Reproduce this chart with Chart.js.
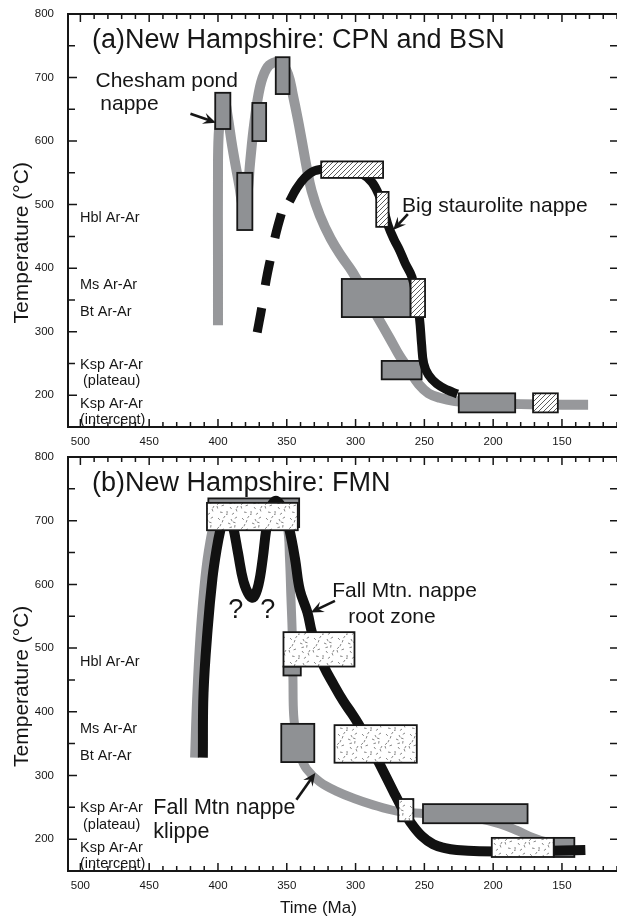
<!DOCTYPE html>
<html lang="en">
<head>
<meta charset="UTF-8">
<title>New Hampshire T-t paths</title>
<script src="https://cdn.jsdelivr.net/npm/chart.js"></script>
<style>
    body { margin: 0; background: #fff; overflow: hidden; }
    canvas { position: absolute; left: 0; }
    #chartA { top: 0; }
    #chartB { top: 443px; }
</style>
</head>
<body>

<canvas id="chartA" width="617" height="450"></canvas>
<canvas id="chartB" width="617" height="473"></canvas>

<script>
// axis limits (Ma, degC) and tick spacing
var ageRange = [110, 509];
var tempRange = [150, 800];
var ageTickStep = 10;
var ageLabelStep = 50;

// closure temperature labels down the left side
var closureLabels = ['Hbl Ar-Ar', 'Ms Ar-Ar', 'Bt Ar-Ar', 'Ksp Ar-Ar', '(plateau)', 'Ksp Ar-Ar', '(intercept)'];
var closureTemps = [472, 367, 324, 242, 216, 180, 154];

// (a) Chesham pond nappe (grey) and Big staurolite nappe (black)
var aCpnAge = [400, 400, 400, 399.5, 397.5, 395, 393, 389.5, 384.5, 381.5, 379, 376.5, 373.5, 369.5, 365, 360, 354, 349, 345.5, 342, 339, 335.5, 332, 326, 318, 310, 302, 293, 284, 275, 268, 261, 254, 247, 239, 228, 210, 180, 150, 131];
var aCpnTemp = [310, 420, 540, 610, 650, 662, 640, 590, 530, 495, 510, 570, 630, 685, 713, 723, 722, 705, 672, 635, 600, 558, 522, 483, 446, 418, 393, 358, 323, 289, 262, 240, 217, 203, 196, 191, 188, 186, 185, 185];
var aBsnDashAge = [371.5, 368, 365, 361.3, 357.6, 352.6];
var aBsnDashTemp = [299, 340, 381, 420, 457, 496];
var aBsnAge = [348, 343, 337, 330, 320, 305, 295, 288, 283, 279, 276, 272, 268, 264, 259, 256, 253.5, 252, 250.5, 247, 241, 233, 226];
var aBsnTemp = [505, 525, 542, 553, 557, 556, 548, 535, 515, 488, 465, 445, 428, 408, 386, 355, 320, 280, 250, 232, 218, 208, 202];
// boxes: [older age, younger age, low T, high T]
var aGrayBoxes = [[402, 391, 619, 676], [386, 375, 460, 550], [375, 365, 600, 660], [358, 348, 674, 732], [310, 260, 323, 383], [281, 252, 225, 254], [225, 184, 173, 203]];
var aHatchBoxes = [[325, 280, 542, 568], [285, 276, 465, 520], [260, 249.5, 323, 383], [171, 153, 173, 203]];

// (b) Fall Mtn nappe klippe (grey) and root zone (black)
var bKlippeAge = [417, 415.5, 413, 409.5, 406, 402, 396, 388, 375, 362, 353, 349.5, 348, 347, 346, 345.5, 345, 343, 340, 335.5, 326, 313.6, 300, 289, 270, 250, 230, 210, 195, 183, 172, 162, 152];
var bKlippeTemp = [328, 420, 520, 610, 665, 700, 716, 722, 722, 718, 708, 690, 640, 580, 520, 450, 395, 360, 330, 310, 290, 275, 263, 255, 244, 240, 237, 232, 224, 214, 203, 196, 193];
var bRootAge = [411, 410.5, 407.5, 404, 401, 398.3, 395.5, 392, 389, 385.5, 381.5, 377, 374, 370.5, 367.5, 365, 362, 358.5, 355, 351.5, 348, 344, 340.5, 335, 331.8, 327.5, 323, 316, 309, 303, 298, 290, 283, 272.5, 266, 260, 252, 243.6, 235, 226.5, 210, 180, 150, 133];
var bRootTemp = [328, 430, 530, 610, 655, 685, 706, 708, 690, 650, 605, 582, 580, 600, 640, 685, 718, 731, 726, 710, 685, 640, 591, 556, 525, 496, 471, 443, 417, 398, 381, 350, 320, 275, 248, 226, 205, 192, 186, 183, 181, 181, 182, 183];
var bGrayBoxes = [[407, 341, 690, 735], [352.4, 339.8, 457, 471], [354, 330, 321, 381], [251, 175, 225, 255], [156, 141, 172, 202]];
var bStippleBoxes = [[408, 342, 685, 728], [352.4, 300.8, 471, 525], [315.3, 255.5, 320, 379], [269, 258, 228, 263], [201, 156, 172, 202]];

var FONT = '"Liberation Sans", Arial, Helvetica, sans-serif';
var INK = '#161616';
var GRAY_LINE = '#97989b';
var GRAY_BOX = '#8f9194';

function pts(ages, temps) {
    return ages.map(function (a, i) { return { x: a, y: temps[i] }; });
}

function hatchPattern(ctx) {
    var c = document.createElement('canvas');
    c.width = 5; c.height = 5;
    var g = c.getContext('2d');
    g.fillStyle = '#fff';
    g.fillRect(0, 0, 5, 5);
    g.strokeStyle = '#333';
    g.lineWidth = 0.8;
    g.beginPath();
    g.moveTo(0, 5); g.lineTo(5, 0);
    g.moveTo(-1, 1); g.lineTo(1, -1);
    g.moveTo(4, 6); g.lineTo(6, 4);
    g.stroke();
    return ctx.createPattern(c, 'repeat');
}

// fixed little flecks for the stipple texture
var flecks = [[2, 3, 0.8], [9, 1, 2.2], [15, 4, 1.1], [21, 2, 2.6], [5, 9, 2.0], [12, 8, 0.4], [19, 10, 1.7],
    [1, 15, 1.3], [8, 14, 2.8], [14, 16, 0.9], [22, 15, 2.1], [4, 21, 0.2], [11, 20, 1.5], [18, 22, 2.5],
    [7, 5, 1.9], [17, 7, 0.3], [3, 12, 2.4], [20, 18, 1.2], [10, 23, 0.6], [16, 12, 2.9]];

function stipplePattern(ctx) {
    var c = document.createElement('canvas');
    c.width = 24; c.height = 24;
    var g = c.getContext('2d');
    g.fillStyle = '#fff';
    g.fillRect(0, 0, 24, 24);
    g.strokeStyle = '#555';
    g.lineWidth = 0.7;
    g.beginPath();
    flecks.forEach(function (f) {
        g.moveTo(f[0], f[1]);
        g.lineTo(f[0] + 2.6 * Math.cos(f[2]), f[1] + 2.6 * Math.sin(f[2]));
    });
    g.stroke();
    return ctx.createPattern(c, 'repeat');
}

function drawBoxes(chart, boxes, fill) {
    var ctx = chart.ctx, x = chart.scales.x, y = chart.scales.y;
    ctx.save();
    boxes.forEach(function (b) {
        var x0 = x.getPixelForValue(b[0]), x1 = x.getPixelForValue(b[1]);
        var y0 = y.getPixelForValue(b[3]), y1 = y.getPixelForValue(b[2]);
        ctx.fillStyle = fill;
        ctx.fillRect(x0, y0, x1 - x0, y1 - y0);
        ctx.strokeStyle = INK;
        ctx.lineWidth = 1.8;
        ctx.strokeRect(x0, y0, x1 - x0, y1 - y0);
    });
    ctx.restore();
}

function drawArrow(ctx, x0, y0, x1, y1) {
    var ang = Math.atan2(y1 - y0, x1 - x0);
    var head = 14;
    ctx.save();
    ctx.strokeStyle = INK;
    ctx.fillStyle = INK;
    ctx.lineWidth = 2.6;
    ctx.beginPath();
    ctx.moveTo(x0, y0);
    ctx.lineTo(x1 - 7 * Math.cos(ang), y1 - 7 * Math.sin(ang));
    ctx.stroke();
    ctx.beginPath();
    ctx.moveTo(x1, y1);
    ctx.lineTo(x1 - head * Math.cos(ang - 0.42), y1 - head * Math.sin(ang - 0.42));
    ctx.lineTo(x1 - 8 * Math.cos(ang), y1 - 8 * Math.sin(ang));
    ctx.lineTo(x1 - head * Math.cos(ang + 0.42), y1 - head * Math.sin(ang + 0.42));
    ctx.closePath();
    ctx.fill();
    ctx.restore();
}

function figurePlugin(panel) {
    return {
        id: 'figure',
        afterDatasetDraw: function (chart, args) {
            if (chart.data.datasets[args.index].label === panel.grayName) {
                drawBoxes(chart, panel.grayBoxes, GRAY_BOX);
            }
        },
        afterDatasetsDraw: function (chart) {
            var fill = panel.pattern === 'hatch' ? hatchPattern(chart.ctx) : stipplePattern(chart.ctx);
            drawBoxes(chart, panel.patternBoxes, fill);
        },
        afterDraw: function (chart) {
            var ctx = chart.ctx, a = chart.chartArea, x = chart.scales.x, y = chart.scales.y;
            ctx.save();

            // frame: left, top, bottom (right edge runs off the page)
            ctx.strokeStyle = INK;
            ctx.lineWidth = 2;
            ctx.beginPath();
            ctx.moveTo(a.right + 2, a.top);
            ctx.lineTo(a.left, a.top);
            ctx.lineTo(a.left, a.bottom);
            ctx.lineTo(a.right + 2, a.bottom);
            ctx.stroke();

            // inward ticks
            ctx.lineWidth = 1.5;
            ctx.beginPath();
            x.ticks.forEach(function (t) {
                var px = x.getPixelForValue(t.value);
                var len = t.value % ageLabelStep === 0 ? 8 : 5;
                ctx.moveTo(px, a.bottom); ctx.lineTo(px, a.bottom - len);
                ctx.moveTo(px, a.top); ctx.lineTo(px, a.top + len);
            });
            y.ticks.forEach(function (t) {
                if (t.value === tempRange[0] || t.value === tempRange[1]) return;
                var py = y.getPixelForValue(t.value);
                var len = t.value % 100 === 0 ? 9 : 7;
                ctx.moveTo(a.left, py); ctx.lineTo(a.left + len, py);
                ctx.moveTo(a.right, py); ctx.lineTo(a.right - 7, py);
            });
            ctx.stroke();

            ctx.fillStyle = INK;
            ctx.textBaseline = 'alphabetic';
            ctx.textAlign = 'left';

            // panel title
            ctx.font = '27px ' + FONT;
            ctx.fillText(panel.title, a.left + 24, a.top + 34);

            // closure temperature labels
            ctx.font = '14.5px ' + FONT;
            closureLabels.forEach(function (s, i) {
                var dx = s === '(plateau)' ? 15 : 12;
                ctx.fillText(s, a.left + dx, y.getPixelForValue(closureTemps[i]));
            });

            // notes and arrows
            panel.notes.forEach(function (n) {
                ctx.font = n[3] + 'px ' + FONT;
                ctx.fillText(n[0], x.getPixelForValue(n[1]), y.getPixelForValue(n[2]));
            });
            panel.arrows.forEach(function (r) {
                drawArrow(ctx, x.getPixelForValue(r[0]), y.getPixelForValue(r[1]),
                    x.getPixelForValue(r[2]), y.getPixelForValue(r[3]));
            });

            // axis titles
            ctx.font = '21px ' + FONT;
            ctx.save();
            ctx.translate(28, y.getPixelForValue(440));
            ctx.rotate(-Math.PI / 2);
            ctx.textAlign = 'center';
            ctx.fillText('Temperature (\u00B0C)', 0, 0);
            ctx.restore();
            if (panel.xTitle) {
                ctx.font = '17px ' + FONT;
                ctx.textAlign = 'center';
                ctx.fillText('Time (Ma)', x.getPixelForValue(327), a.bottom + 42);
            }
            ctx.restore();
        }
    };
}

function makeOptions(xHeight) {
    return {
        responsive: false,
        animation: false,
        events: [],
        layout: { padding: { top: 14, left: 0, right: 0, bottom: 0 } },
        plugins: { legend: { display: false }, tooltip: { enabled: false } },
        scales: {
            x: {
                type: 'linear',
                reverse: true,
                min: ageRange[0],
                max: ageRange[1],
                grid: { display: false },
                border: { display: false },
                ticks: {
                    autoSkip: false,
                    maxRotation: 0,
                    padding: 0,
                    color: INK,
                    font: { family: FONT, size: 11.5 },
                    callback: function (v) { return v % ageLabelStep === 0 ? v : ''; }
                },
                afterBuildTicks: function (s) {
                    var list = [];
                    for (var v = ageRange[0]; v <= ageRange[1]; v += ageTickStep) list.push({ value: v });
                    s.ticks = list;
                },
                afterFit: function (s) { s.height = xHeight; }
            },
            y: {
                type: 'linear',
                min: tempRange[0],
                max: tempRange[1],
                grid: { display: false },
                border: { display: false },
                ticks: {
                    stepSize: 50,
                    autoSkip: false,
                    padding: 6,
                    color: INK,
                    font: { family: FONT, size: 11.5 },
                    callback: function (v) { return v % 100 === 0 ? v : ''; }
                },
                afterFit: function (s) { s.width = 68; }
            }
        }
    };
}

function line(label, data, color, width, dash) {
    return {
        label: label,
        data: data,
        showLine: true,
        borderColor: color,
        borderWidth: width,
        borderDash: dash || [],
        borderCapStyle: 'butt',
        borderJoinStyle: 'round',
        tension: 0.4,
        pointRadius: 0,
        fill: false
    };
}

var panelA = {
    title: '(a)New Hampshire: CPN and BSN',
    grayName: 'CPN',
    grayBoxes: aGrayBoxes,
    patternBoxes: aHatchBoxes,
    pattern: 'hatch',
    xTitle: false,
    notes: [['Chesham pond', 489, 685, 21], ['nappe', 485.5, 649, 21], ['Big staurolite nappe', 266.2, 488, 21]],
    arrows: [[420, 643, 401.5, 629], [262, 485, 272.7, 460]]
};

var panelB = {
    title: '(b)New Hampshire: FMN',
    grayName: 'FMN klippe',
    grayBoxes: bGrayBoxes,
    patternBoxes: bStippleBoxes,
    pattern: 'stipple',
    xTitle: true,
    notes: [['Fall Mtn. nappe', 317, 579.5, 21], ['root zone', 305.4, 538.6, 21], ['Fall Mtn nappe', 447, 239.4, 21.5],
        ['klippe', 447, 201.6, 21.5], ['?', 392.5, 546.5, 27], ['?', 369.3, 546.5, 27]],
    arrows: [[315, 574, 332.5, 556], [343, 262, 329.3, 304]]
};

var chartA = new Chart(document.getElementById('chartA').getContext('2d'), {
    type: 'scatter',
    data: {
        datasets: [
            line('BSN', pts(aBsnAge, aBsnTemp), '#111', 9),
            line('BSN dashed', pts(aBsnDashAge, aBsnDashTemp), '#111', 9, [25, 23]),
            line('CPN', pts(aCpnAge, aCpnTemp), GRAY_LINE, 10)
        ]
    },
    options: makeOptions(23),
    plugins: [figurePlugin(panelA)]
});

var chartB = new Chart(document.getElementById('chartB').getContext('2d'), {
    type: 'scatter',
    data: {
        datasets: [
            line('FMN root zone', pts(bRootAge, bRootTemp), '#111', 10),
            line('FMN klippe', pts(bKlippeAge, bKlippeTemp), GRAY_LINE, 9)
        ]
    },
    options: makeOptions(45),
    plugins: [figurePlugin(panelB)]
});
</script>

</body>
</html>
